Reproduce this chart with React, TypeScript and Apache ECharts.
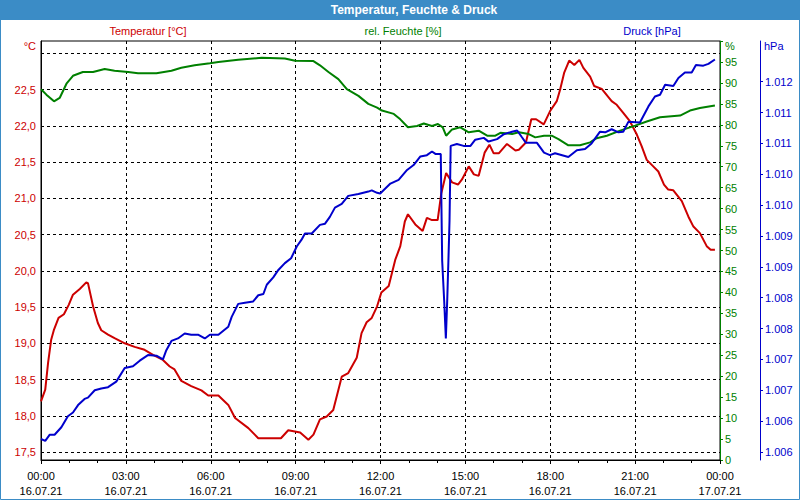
import React, { useEffect, useRef } from 'react';
import * as echarts from 'echarts';

// Hours since 16.07.21 00:00
const tempHours = [0, 0.15, 0.25, 0.36, 0.46, 0.62, 0.81, 0.98, 1.13, 1.37, 1.6, 1.66, 1.84, 2.01, 2.13, 2.37, 2.6, 2.96, 3.31, 3.66, 3.96, 4.31, 4.55, 4.72, 4.96, 5.31, 5.67, 5.91, 6.27, 6.62, 6.86, 7.33, 7.68, 8.15, 8.48, 8.74, 9.16, 9.45, 9.63, 9.86, 10.1, 10.33, 10.63, 10.86, 11.16, 11.33, 11.51, 11.69, 11.88, 12.03, 12.29, 12.52, 12.7, 12.86, 12.97, 13.23, 13.49, 13.64, 13.82, 14.02, 14.15, 14.32, 14.53, 14.74, 14.88, 15.12, 15.3, 15.47, 15.68, 15.85, 16.0, 16.18, 16.47, 16.77, 16.89, 17.14, 17.33, 17.5, 17.77, 17.99, 18.23, 18.35, 18.49, 18.67, 18.85, 19.03, 19.17, 19.41, 19.55, 19.82, 20.17, 20.35, 20.58, 20.82, 21.06, 21.23, 21.41, 21.64, 21.82, 22.02, 22.17, 22.35, 22.65, 22.88, 23.06, 23.29, 23.53, 23.67, 23.82];
const tempValues = [18.2, 18.36, 18.73, 19.05, 19.19, 19.35, 19.4, 19.53, 19.67, 19.75, 19.84, 19.83, 19.51, 19.28, 19.18, 19.12, 19.07, 19.0, 18.95, 18.91, 18.84, 18.77, 18.68, 18.64, 18.48, 18.41, 18.35, 18.28, 18.28, 18.15, 17.97, 17.83, 17.69, 17.69, 17.69, 17.8, 17.77, 17.67, 17.74, 17.95, 17.99, 18.08, 18.54, 18.59, 18.8, 19.14, 19.29, 19.35, 19.51, 19.7, 19.79, 20.15, 20.34, 20.68, 20.78, 20.64, 20.55, 20.73, 20.7, 20.7, 21.07, 21.35, 21.22, 21.19, 21.26, 21.44, 21.33, 21.31, 21.63, 21.74, 21.62, 21.62, 21.75, 21.66, 21.67, 21.77, 22.09, 22.09, 22.02, 22.2, 22.34, 22.5, 22.73, 22.9, 22.84, 22.91, 22.8, 22.68, 22.55, 22.51, 22.34, 22.29, 22.18, 22.06, 21.88, 21.72, 21.53, 21.44, 21.37, 21.19, 21.12, 21.11, 20.96, 20.75, 20.61, 20.52, 20.34, 20.29, 20.29];

const humHours = [0, 0.19, 0.46, 0.66, 0.9, 1.13, 1.48, 1.84, 2.25, 2.6, 3.08, 3.43, 4.08, 4.61, 4.96, 5.43, 5.97, 6.27, 6.97, 7.8, 8.62, 8.98, 9.63, 9.86, 10.16, 10.51, 10.81, 11.22, 11.57, 11.88, 12.05, 12.47, 12.7, 12.97, 13.29, 13.53, 13.82, 14.03, 14.2, 14.32, 14.53, 14.82, 15.12, 15.47, 15.77, 16.06, 16.24, 16.65, 16.89, 17.24, 17.47, 17.78, 18.05, 18.29, 18.64, 19.05, 19.41, 19.64, 20.0, 20.47, 21.0, 21.41, 21.88, 22.59, 22.94, 23.29, 23.82];
const humValues = [88.5, 87.2, 85.6, 86.4, 89.8, 91.7, 92.6, 92.6, 93.3, 92.9, 92.6, 92.3, 92.3, 92.9, 93.6, 94.2, 94.7, 95.0, 95.5, 96.0, 95.8, 95.3, 95.2, 94.2, 92.6, 90.9, 88.5, 86.9, 85.0, 84.1, 83.4, 82.6, 81.3, 79.4, 79.7, 80.3, 79.7, 80.2, 79.4, 77.4, 78.9, 79.4, 78.2, 78.6, 77.4, 77.4, 78.1, 77.8, 78.2, 77.8, 77.0, 77.4, 77.4, 76.6, 75.1, 75.1, 75.8, 76.8, 77.4, 78.6, 79.8, 80.8, 81.8, 82.2, 83.4, 84.0, 84.6];

const presHours = [0, 0.15, 0.31, 0.48, 0.72, 0.95, 1.13, 1.31, 1.54, 1.66, 1.9, 2.13, 2.37, 2.66, 2.96, 3.25, 3.49, 3.78, 4.08, 4.31, 4.43, 4.61, 4.84, 5.08, 5.31, 5.55, 5.79, 5.97, 6.27, 6.62, 6.74, 6.97, 7.21, 7.5, 7.68, 7.86, 7.98, 8.21, 8.39, 8.62, 8.84, 9.04, 9.21, 9.33, 9.57, 9.86, 10.04, 10.21, 10.39, 10.63, 10.86, 11.22, 11.57, 11.69, 11.88, 11.99, 12.35, 12.64, 12.94, 13.17, 13.41, 13.64, 13.82, 13.94, 14.13, 14.18, 14.25, 14.31, 14.36, 14.4, 14.44, 14.48, 14.7, 14.94, 15.18, 15.35, 15.65, 15.82, 16.12, 16.36, 16.65, 16.83, 17.0, 17.14, 17.53, 17.78, 17.99, 18.17, 18.64, 18.94, 19.23, 19.46, 19.76, 19.94, 20.17, 20.41, 20.58, 20.76, 21.17, 21.47, 21.7, 21.88, 22.06, 22.35, 22.53, 22.76, 23.0, 23.15, 23.41, 23.59, 23.82];
const presValues = [1005.71, 1005.68, 1005.78, 1005.78, 1005.9, 1006.08, 1006.14, 1006.26, 1006.36, 1006.38, 1006.5, 1006.53, 1006.55, 1006.64, 1006.86, 1006.89, 1006.98, 1007.07, 1007.06, 1007.0, 1007.15, 1007.3, 1007.34, 1007.42, 1007.4, 1007.4, 1007.34, 1007.4, 1007.4, 1007.53, 1007.69, 1007.9, 1007.92, 1007.94, 1008.04, 1008.06, 1008.21, 1008.33, 1008.45, 1008.56, 1008.64, 1008.83, 1008.94, 1009.04, 1009.04, 1009.18, 1009.2, 1009.31, 1009.46, 1009.52, 1009.65, 1009.68, 1009.72, 1009.74, 1009.7, 1009.69, 1009.85, 1009.91, 1010.07, 1010.15, 1010.29, 1010.31, 1010.37, 1010.33, 1010.33, 1008.6, 1007.96, 1007.34, 1007.98, 1008.6, 1009.25, 1010.46, 1010.49, 1010.46, 1010.46, 1010.56, 1010.59, 1010.53, 1010.57, 1010.65, 1010.69, 1010.71, 1010.6, 1010.51, 1010.51, 1010.35, 1010.31, 1010.34, 1010.28, 1010.39, 1010.41, 1010.5, 1010.69, 1010.68, 1010.73, 1010.68, 1010.69, 1010.85, 1010.84, 1011.1, 1011.26, 1011.29, 1011.45, 1011.43, 1011.56, 1011.65, 1011.65, 1011.77, 1011.76, 1011.79, 1011.86];

const tempTicks = [17.5, 18.0, 18.5, 19.0, 19.5, 20.0, 20.5, 21.0, 21.5, 22.0, 22.5, 23.0];
const tempLabels = [17.5, 18.0, 18.5, 19.0, 19.5, 20.0, 20.5, 21.0, 21.5, 22.0, 22.5];
const presTicks = [1005.5, 1006.0, 1006.5, 1007.0, 1007.5, 1008.0, 1008.5, 1009.0, 1009.5, 1010.0, 1010.5, 1011.0, 1011.5];

const TITLE = 'Temperatur, Feuchte & Druck';
const NAME_T = 'Temperatur [°C]';
const NAME_H = 'rel. Feuchte [%]';
const NAME_P = 'Druck [hPa]';

const RED = '#cc0000';
const GREEN = '#008000';
const BLUE = '#0000cc';
const FRAME = '#3b8cc6';

function zip(xs: number[], ys: number[]) {
  const n = Math.min(xs.length, ys.length);
  const out: number[][] = [];
  for (let i = 0; i < n; i++) out.push([xs[i], ys[i]]);
  return out;
}

export default function App() {
  const ref = useRef<HTMLDivElement>(null);
  useEffect(() => {
    if (!ref.current) return;
    const chart = echarts.init(ref.current, null, { renderer: 'svg' });
    const font = '"Liberation Sans", Arial, sans-serif';
    const txt = (text: string, x: number, y: number, fill: string, align: string, size = 11, weight = 'normal') => ({
      type: 'text',
      x,
      y,
      z: 100,
      style: {
        text,
        fill,
        font: `${weight} ${size}px ${font}`,
        align,
        textAlign: align,
        verticalAlign: 'middle',
        textVerticalAlign: 'middle',
      },
    });
    chart.setOption({
      animation: false,
      backgroundColor: '#ffffff',
      textStyle: { fontFamily: font },
      grid: {
        left: 41,
        top: 41,
        width: 679,
        height: 419,
        show: true,
        borderColor: '#000',
        borderWidth: 1,
        backgroundColor: '#ffffff',
        containLabel: false,
        outerBoundsMode: 'none',
      },
      xAxis: {
        type: 'value',
        min: 0,
        max: 24,
        interval: 3,
        axisLine: { show: true, onZero: false, lineStyle: { color: '#000', width: 1 } },
        axisTick: { show: true, length: 4, lineStyle: { color: '#000' } },
        minorTick: { show: true, splitNumber: 3, length: 3, lineStyle: { color: '#000' } },
        splitLine: { show: true, lineStyle: { color: '#000', type: [3, 3], width: 1 } },
        axisLabel: {
          color: '#000',
          fontSize: 11,
          lineHeight: 15,
          margin: 8,
          formatter: (v: number) => {
            const h = Math.round(v) % 24;
            const d = v >= 24 ? '17.07.21' : '16.07.21';
            return `${String(h).padStart(2, '0')}:00\n${d}`;
          },
        },
      },
      yAxis: [
        {
          type: 'value',
          position: 'left',
          min: 17.39,
          max: 23.17,
          axisLine: { show: true, onZero: false, lineStyle: { color: '#000', width: 1 } },
          axisTick: { show: false, customValues: tempTicks },
          splitLine: { show: true, lineStyle: { color: '#000', type: [3, 3], width: 1 } },
          axisLabel: {
            customValues: tempLabels,
            color: RED,
            fontSize: 11,
            margin: 5,
            formatter: (v: number) => v.toFixed(1).replace('.', ','),
          },
        },
        {
          type: 'value',
          position: 'right',
          min: 0,
          max: 100,
          interval: 5,
          axisLine: { show: true, onZero: false, lineStyle: { color: GREEN, width: 1 } },
          axisTick: { show: true, length: 3, lineStyle: { color: GREEN } },
          splitLine: { show: false },
          axisLabel: {
            color: GREEN,
            fontSize: 11,
            margin: 5,
            formatter: (v: number) => (v >= 100 ? '' : String(v)),
          },
        },
        {
          type: 'value',
          position: 'right',
          offset: 40,
          min: 1005.37,
          max: 1012.16,
          axisLine: { show: true, onZero: false, lineStyle: { color: BLUE, width: 1 } },
          axisTick: { show: true, length: 3, customValues: presTicks, lineStyle: { color: BLUE } },
          splitLine: { show: false },
          axisLabel: {
            customValues: presTicks,
            color: BLUE,
            fontSize: 11,
            margin: 5,
            formatter: (v: number) => {
              const n = Math.round(v);
              return `${Math.floor(n / 1000)}.${String(n % 1000).padStart(3, '0')}`;
            },
          },
        },
      ],
      series: [
        {
          type: 'line',
          name: NAME_T,
          yAxisIndex: 0,
          data: zip(tempHours, tempValues),
          showSymbol: false,
          symbol: 'none',
          lineStyle: { color: RED, width: 2 },
          itemStyle: { color: RED },
        },
        {
          type: 'line',
          name: NAME_H,
          yAxisIndex: 1,
          data: zip(humHours, humValues),
          showSymbol: false,
          symbol: 'none',
          lineStyle: { color: GREEN, width: 2 },
          itemStyle: { color: GREEN },
        },
        {
          type: 'line',
          name: NAME_P,
          yAxisIndex: 2,
          data: zip(presHours, presValues),
          showSymbol: false,
          symbol: 'none',
          lineStyle: { color: BLUE, width: 2 },
          itemStyle: { color: BLUE },
        },
      ],
      graphic: [
        { type: 'rect', z: 90, shape: { x: 0, y: 0, width: 800, height: 20 }, style: { fill: FRAME } },
        { type: 'rect', z: 90, shape: { x: 0.5, y: 0.5, width: 799, height: 499 }, style: { fill: 'none', stroke: FRAME, lineWidth: 1 } },
        txt(TITLE, 414, 10, '#ffffff', 'center', 12, 'bold'),
        txt(NAME_T, 148, 31, RED, 'center'),
        txt(NAME_H, 403, 31, GREEN, 'center'),
        txt(NAME_P, 652, 31, BLUE, 'center'),
        txt('°C', 36, 46, RED, 'right'),
        txt('%', 725, 46, GREEN, 'left'),
        txt('hPa', 764, 46, BLUE, 'left'),
      ],
    });
    return () => chart.dispose();
  }, []);
  return <div ref={ref} style={{ position: 'fixed', left: 0, top: 0, width: 800, height: 500 }} />;
}
